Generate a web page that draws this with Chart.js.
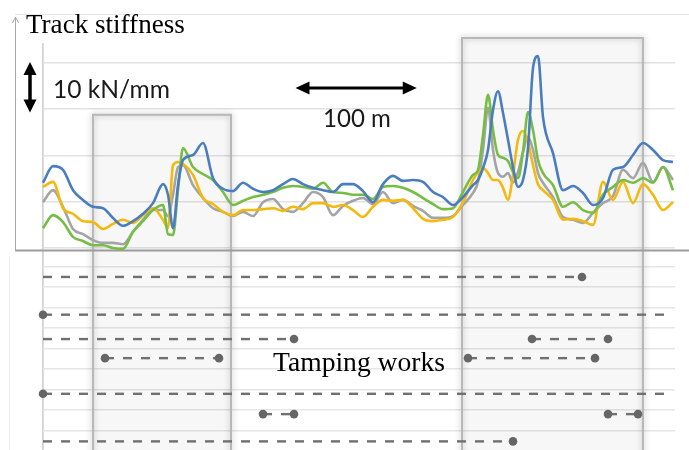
<!DOCTYPE html>
<html>
<head>
<meta charset="utf-8">
<script src="https://cdn.jsdelivr.net/npm/chart.js@4.4.1/dist/chart.umd.min.js"></script>
<style>
  html, body { margin: 0; padding: 0; background: #fff; }
</style>
</head>
<body>
<canvas id="chart1" width="689" height="450"></canvas>
<script>
// distance along the track, m (denser sampling around the sharp peaks)
const distance = [0, 8, 16, 24, 32, 40, 48, 56, 64, 72, 80, 88, 96, 100, 104, 108, 112,
  120, 128, 136, 144, 152, 160, 168, 176, 184, 192, 200, 208, 216, 224, 232, 240, 248,
  256, 264, 272, 280, 288, 296, 304, 312, 320, 328, 336, 344,
  348, 352, 356, 360, 364, 368, 372, 376, 380, 384, 388, 392, 396, 400,
  408, 416, 424, 432, 440, 448, 456, 464, 472, 480, 488, 496, 504];

// measured track stiffness, kN/mm above the lowest grid line
const stiffBlue = [14.1, 17.7, 16.9, 12.5, 10.4, 8.9, 8.6, 6.5, 4.8, 5.8, 7.4, 9.7, 13.8,
  11.5, 4.3, 13.6, 19.0,
  20.1, 22.7, 15.1, 12.8, 12.3, 14.1, 12.8, 12.1, 12.5, 13.8, 14.9, 13.8, 13.0, 12.5, 12.1,
  13.8, 13.8, 12.3, 9.9, 13.8, 15.6, 14.5, 14.7, 14.3, 12.1, 11.0, 9.3, 11.0, 13.6,
  14.7, 17.3, 21.2, 29.8, 33.9, 29.2, 23.4, 17.5, 13.2, 14.7, 21.6, 38.9, 41.5, 28.3,
  20.5, 12.5, 13.4, 11.9, 9.3, 10.8, 16.9, 17.5, 20.1, 22.7, 21.2, 19.0, 18.6];
const stiffGreen = [4.3, 7.1, 5.6, 2.4, 1.5, 0.6, 0.6, 0.0, -0.2, 3.5, 5.8, 8.2, 9.3,
  3.0, 2.8, 12.5, 21.6,
  17.5, 16.0, 14.7, 12.1, 9.3, 10.2, 11.0, 11.5, 12.1, 13.0, 13.4, 13.2, 12.8, 14.1, 12.1,
  11.9, 11.5, 11.5, 10.6, 13.2, 13.4, 13.0, 12.1, 10.8, 9.5, 8.4, 8.6, 12.1, 15.8,
  16.9, 24.4, 33.1, 25.5, 20.1, 19.5, 18.8, 16.4, 15.1, 20.8, 29.4, 25.5, 19.0, 16.2,
  13.6, 8.9, 9.9, 8.2, 7.6, 11.5, 13.2, 14.7, 14.1, 15.1, 14.1, 17.5, 12.5];
const stiffOrange = [13.2, 14.3, 8.6, 7.4, 5.8, 5.6, 4.1, 5.2, 6.1, 5.4, 7.1, 8.6, 6.1,
  4.3, 17.9, 18.6, 18.2,
  15.8, 10.8, 9.5, 7.8, 7.1, 8.2, 8.2, 8.4, 8.6, 8.0, 8.9, 8.4, 9.7, 9.7, 8.9,
  9.3, 8.2, 6.7, 8.9, 10.4, 10.2, 10.4, 8.6, 6.3, 5.8, 6.1, 6.7, 9.9, 14.7,
  16.4, 17.3, 16.2, 14.7, 14.7, 13.0, 10.4, 15.8, 23.4, 25.3, 22.9, 17.9, 13.8, 12.5,
  10.4, 6.1, 6.3, 5.8, 5.0, 14.3, 10.4, 14.3, 9.7, 13.8, 11.5, 8.2, 9.9];
const stiffGray = [9.9, 12.5, 8.9, 4.1, 3.0, 1.7, 1.1, 1.1, 0.8, 3.5, 6.1, 8.2, 8.2,
  6.9, 11.5, 17.5, 17.9,
  13.6, 10.8, 8.6, 7.8, 6.9, 7.8, 6.9, 9.9, 10.6, 8.4, 7.8, 9.7, 12.1, 11.0, 7.1,
  9.1, 10.2, 10.8, 9.5, 12.1, 9.7, 10.4, 9.1, 8.0, 6.5, 6.5, 6.9, 9.3, 11.9,
  14.3, 21.2, 30.3, 21.2, 16.2, 15.4, 16.2, 14.1, 16.4, 20.8, 24.0, 21.2, 16.2, 14.1,
  11.0, 6.7, 6.1, 5.4, 7.6, 9.7, 11.2, 16.9, 15.1, 18.4, 14.3, 17.5, 14.7];

// tamping works: row, from / to (m), open = runs past the shown section
const tampRow = [0.5, 2.34, 3.53, 3.53, 4.46, 4.46, 6.2, 7.19, 7.19, 8.52];
const tampFrom = [0, 0, 0, 391.2, 49.6, 340, 0, 176, 452, 0];
const tampTo = [431.2, 504, 200.8, 452, 140.8, 441.6, 504, 200.8, 476, 376];
const tampOpenFrom = [true, false, true, false, false, false, false, false, false, true];
const tampOpenTo = [false, true, false, false, false, false, true, false, false, false];

// highlighted zones (m) and their top (kN/mm)
const zoneFrom = [40, 335.2];
const zoneTo = [150.4, 480];
const zoneTop = [28.8, 45.4];

// scale bars
const barMetres = [202, 299];     // "100 m"
const barStiff = [29.3, 40.2];    // "10 kN/mm"

function stiffSet(label, values, color) {
  return {
    label: label,
    data: distance.map((d, i) => ({ x: d, y: values[i] })),
    yAxisID: 'y',
    borderColor: color,
    borderWidth: 2.6,
    pointRadius: 0,
    cubicInterpolationMode: 'monotone',
    clip: false
  };
}

const tampSets = tampRow.map((row, i) => ({
  label: 'Tamping ' + (i + 1),
  data: [{ x: tampFrom[i], y: row }, { x: tampTo[i], y: row }],
  yAxisID: 'yT',
  borderColor: '#707070',
  borderWidth: 2.4,
  borderDash: [9, 9],
  tension: 0,
  pointRadius: [tampOpenFrom[i] ? 0 : 4.3, tampOpenTo[i] ? 0 : 4.3],
  pointBackgroundColor: '#666',
  pointBorderWidth: 0,
  clip: false
}));

function fitLabel(ctx, text, family, left, baseline, width, color) {
  ctx.font = '100px ' + family;
  const size = 100 * width / ctx.measureText(text).width;
  ctx.font = size.toFixed(1) + 'px ' + family;
  ctx.fillStyle = color;
  ctx.textAlign = 'left';
  ctx.textBaseline = 'alphabetic';
  ctx.fillText(text, left, baseline);
}

function doubleArrow(ctx, x1, y1, x2, y2, head, half, width) {
  const a = Math.atan2(y2 - y1, x2 - x1);
  const ux = Math.cos(a), uy = Math.sin(a);
  ctx.lineWidth = width;
  ctx.beginPath();
  ctx.moveTo(x1 + ux * head * 0.8, y1 + uy * head * 0.8);
  ctx.lineTo(x2 - ux * head * 0.8, y2 - uy * head * 0.8);
  ctx.stroke();
  [[x1, y1, -1], [x2, y2, 1]].forEach(([px, py, s]) => {
    const bx = px - s * ux * head, by = py - s * uy * head;
    ctx.beginPath();
    ctx.moveTo(px, py);
    ctx.lineTo(bx - uy * half, by + ux * half);
    ctx.lineTo(bx + uy * half, by - ux * half);
    ctx.closePath();
    ctx.fill();
  });
}

const decor = {
  id: 'decor',
  beforeDatasetsDraw(chart) {
    const { ctx, scales: { x, y } } = chart;
    ctx.save();
    ctx.strokeStyle = '#e6e6e6';
    ctx.lineWidth = 1;
    ctx.beginPath(); ctx.moveTo(15, 14.5); ctx.lineTo(689, 14.5); ctx.stroke();
    ctx.strokeStyle = '#eeeeee';
    ctx.beginPath(); ctx.moveTo(9.5, 256); ctx.lineTo(9.5, 450); ctx.stroke();

    // highlighted zones
    zoneFrom.forEach((from, i) => {
      const l = x.getPixelForValue(from), r = x.getPixelForValue(zoneTo[i]);
      const t = y.getPixelForValue(zoneTop[i]), b = chart.height + 10;
      ctx.save();
      ctx.fillStyle = 'rgba(0,0,0,0.03)';
      ctx.fillRect(l, t, r - l, b - t);
      ctx.shadowColor = 'rgba(0,0,0,0.3)';
      ctx.shadowBlur = 6;
      ctx.strokeStyle = '#b8b8b8';
      ctx.lineWidth = 2;
      ctx.strokeRect(l, t, r - l, b - t);
      ctx.restore();
    });

    // axes of the stiffness panel
    const base = y.getPixelForValue(0) + 2.5;
    ctx.strokeStyle = '#9c9c9c';
    ctx.lineWidth = 2;
    ctx.beginPath(); ctx.moveTo(15, base); ctx.lineTo(689, base); ctx.stroke();
    ctx.strokeStyle = '#a8a8a8';
    ctx.lineWidth = 1;
    ctx.beginPath(); ctx.moveTo(15.5, 17); ctx.lineTo(15.5, base); ctx.stroke();
    ctx.beginPath(); ctx.moveTo(12.5, 23); ctx.lineTo(15.5, 17); ctx.lineTo(18.5, 23); ctx.stroke();
    ctx.restore();
  },
  afterDraw(chart) {
    const { ctx, scales: { x, y } } = chart;
    ctx.save();
    fitLabel(ctx, 'Track stiffness', '"Liberation Serif", serif', 26, 33, 159, '#000');
    fitLabel(ctx, 'Tamping works', '"Liberation Serif", serif', 273, 371, 172, '#000');
    fitLabel(ctx, '10 kN/mm', 'Lato, sans-serif', 53, 98, 117, '#1a1a1a');
    fitLabel(ctx, '100 m', 'Lato, sans-serif', 323, 127, 68, '#1a1a1a');

    ctx.strokeStyle = '#000';
    ctx.fillStyle = '#000';
    const ay = y.getPixelForValue(34.6);
    doubleArrow(ctx, x.getPixelForValue(barMetres[0]), ay, x.getPixelForValue(barMetres[1]), ay, 14, 6.5, 3);
    const ax = x.getPixelForValue(-10.4);
    doubleArrow(ctx, ax, y.getPixelForValue(barStiff[1]), ax, y.getPixelForValue(barStiff[0]), 13, 6.5, 3.5);
    ctx.restore();
  }
};

const isStep = (v, step) => Math.abs(v / step - Math.round(v / step)) < 1e-6;

const chart1 = new Chart(document.getElementById('chart1').getContext('2d'), {
  type: 'line',
  data: {
    datasets: [
      stiffSet('Blue', stiffBlue, '#4a7dbf'),
      stiffSet('Green', stiffGreen, '#76bd45'),
      stiffSet('Orange', stiffOrange, '#f3b90e'),
      stiffSet('Gray', stiffGray, '#a4a4a4'),
      ...tampSets
    ]
  },
  options: {
    responsive: false,
    animation: false,
    events: [],
    layout: { autoPadding: false, padding: { left: 43, top: 43, right: 14, bottom: 0 } },
    plugins: { legend: { display: false }, tooltip: { enabled: false } },
    scales: {
      x: {
        type: 'linear', min: 0, max: 505.6,
        ticks: { display: false, stepSize: 100 },
        border: { display: false },
        grid: { drawTicks: false, lineWidth: 1.8,
          color: c => (c.tick && isStep(c.tick.value, 100)) ? '#d3d3d3' : 'transparent' }
      },
      y: {
        min: -43.68, max: 44.32,
        ticks: { display: false, stepSize: 10 },
        border: { display: false },
        grid: { drawTicks: false, lineWidth: 1.5,
          color: c => (c.tick && c.tick.value >= 0 && isStep(c.tick.value, 10)) ? '#e2e2e2' : 'transparent' }
      },
      yT: {
        position: 'left', reverse: true, min: -10.91, max: 8.94,
        ticks: { display: false, stepSize: 1 },
        border: { display: false },
        grid: { drawTicks: false, lineWidth: 1.5,
          color: c => (c.tick && c.tick.value >= 0 && isStep(c.tick.value, 1)) ? '#e6e6e6' : 'transparent' }
      }
    }
  },
  plugins: [decor]
});
</script>
</body>
</html>
